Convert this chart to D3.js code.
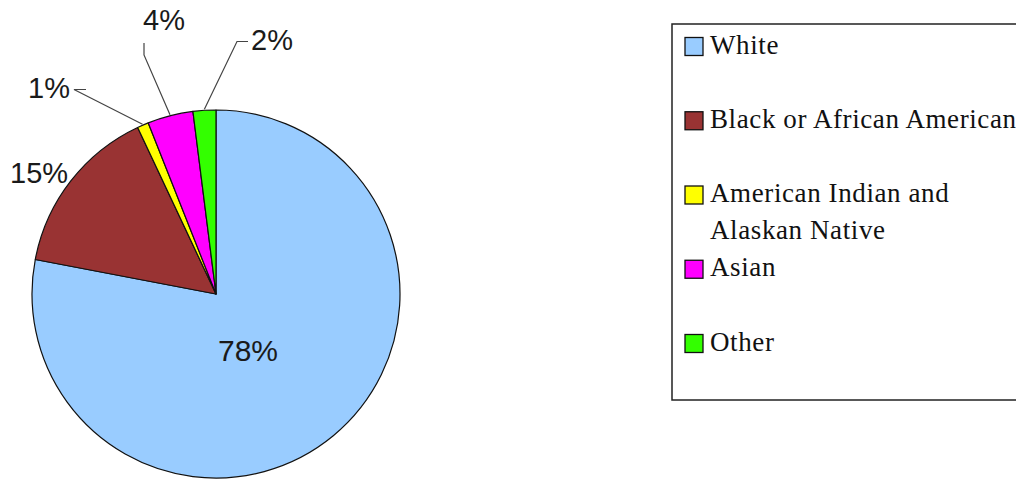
<!DOCTYPE html>
<html>
<head>
<meta charset="utf-8">
<script src="https://cdn.jsdelivr.net/npm/d3@7"></script>
<style>
  html, body { margin: 0; padding: 0; background: #fff; }
  svg { display: block; }
</style>
</head>
<body>
<svg id="chart" width="1016" height="481"></svg>
<script>
// Population by race, percent of total
const categories = ["White", "Black or African American", "American Indian and Alaskan Native", "Asian", "Other"];
const legendLines = [["White"], ["Black or African American"], ["American Indian and", "Alaskan Native"], ["Asian"], ["Other"]];
const values = [78, 15, 1, 4, 2];
const colors = ["#99ccff", "#993333", "#ffff00", "#ff00ff", "#33ff00"];

const svg = d3.select("#chart");
const cx = 216, cy = 294, radius = 184;

const pie = d3.pie().sort(null).value(d => d)
  .startAngle(0).endAngle(2 * Math.PI);
const arcs = pie(values);
const arc = d3.arc().innerRadius(0).outerRadius(radius);
const color = d3.scaleOrdinal().domain(categories).range(colors);

const g = svg.append("g").attr("transform", `translate(${cx},${cy})`);

g.selectAll("path.slice")
  .data(arcs)
  .join("path")
  .attr("class", "slice")
  .attr("d", arc)
  .attr("fill", (d, i) => color(categories[i]))
  .attr("stroke", "#111")
  .attr("stroke-width", 1.2)
  .attr("stroke-linejoin", "round");

const pct = v => `${d3.format(".0f")(v)}%`;
const labelFont = "'Liberation Sans', Arial, sans-serif";

// Point on the rim at a pie angle (clockwise from 12 o'clock)
const rim = (a, r = radius) => [Math.sin(a) * r, -Math.cos(a) * r];

// Large slice: label inside the slice
const big = arcs[0];
g.append("text")
  .attr("x", 32)
  .attr("y", 67)
  .attr("text-anchor", "middle")
  .attr("font-family", labelFont)
  .attr("font-size", 30)
  .attr("fill", "#1a1a1a")
  .text(pct(big.data));

// Outside labels with leader lines (elbow points relative to the center)
const outside = [
  { i: 1, tx: -206, ty: -111, leader: null },
  { i: 2, tx: -188, ty: -196, leader: [[-142, -204.5], [-130, -204.5]] },
  { i: 3, tx: -73, ty: -264, leader: [[-72, -239], [-72, -251]] },
  { i: 4, tx: 35, ty: -244, leader: [[21, -252.5], [32, -252.5]] }
];

outside.forEach(o => {
  const d = arcs[o.i];
  const mid = (d.startAngle + d.endAngle) / 2;
  if (o.leader) {
    const p0 = rim(mid, radius + 1);
    g.append("path")
      .attr("d", d3.line()([p0, ...o.leader]))
      .attr("fill", "none")
      .attr("stroke", "#444")
      .attr("stroke-width", 1.2);
  }
  g.append("text")
    .attr("x", o.tx)
    .attr("y", o.ty)
    .attr("font-family", labelFont)
    .attr("font-size", 29)
    .attr("fill", "#1a1a1a")
    .text(pct(d.data));
});

// Legend
const legend = svg.append("g").attr("transform", "translate(672,24)");
legend.append("rect")
  .attr("x", 0).attr("y", 0)
  .attr("width", 380).attr("height", 376)
  .attr("fill", "#fff")
  .attr("stroke", "#222")
  .attr("stroke-width", 1.5);

const rowY = d3.scalePoint().domain(categories).range([29.5, 326.5]);
const lineH = 36.6;

const rows = legend.selectAll("g.row")
  .data(categories)
  .join("g")
  .attr("class", "row")
  .attr("transform", d => `translate(0,${rowY(d)})`);

rows.append("rect")
  .attr("x", 13).attr("y", -16)
  .attr("width", 18).attr("height", 18)
  .attr("fill", d => color(d))
  .attr("stroke", "#111")
  .attr("stroke-width", 1.3);

rows.append("text")
  .attr("x", 38)
  .attr("y", 0)
  .attr("font-family", "'Liberation Serif', 'Times New Roman', serif")
  .attr("font-size", 27)
  .attr("letter-spacing", 0.6)
  .attr("fill", "#111")
  .selectAll("tspan")
  .data((d, i) => legendLines[i])
  .join("tspan")
  .attr("x", 38)
  .attr("dy", (d, j) => j === 0 ? 0 : lineH)
  .text(d => d);
</script>
</body>
</html>
